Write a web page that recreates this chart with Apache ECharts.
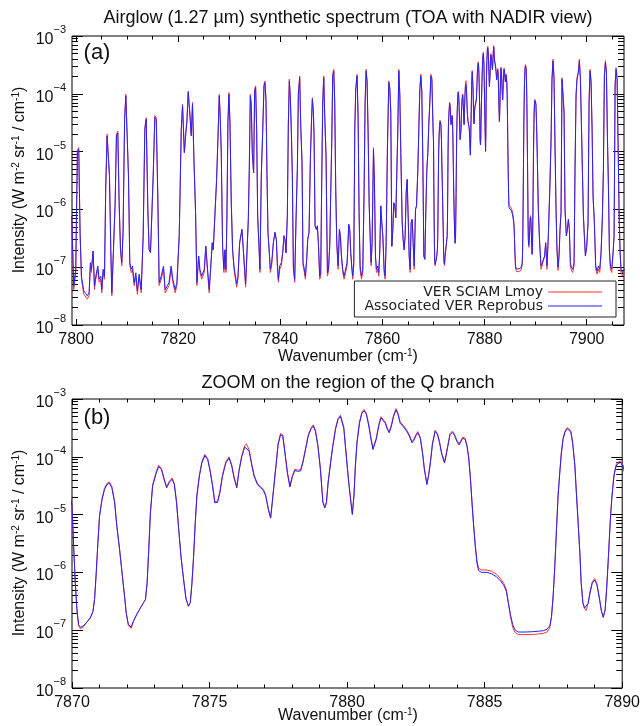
<!DOCTYPE html>
<html>
<head>
<meta charset="utf-8">
<script src="https://cdn.jsdelivr.net/npm/echarts@6/dist/echarts.min.js"></script>
<style>html,body{margin:0;padding:0;background:#fff}#c{width:643px;height:726px}</style>
</head>
<body>
<div id="c"></div>
<script>
// ---- data ----
const wavenumber = [
7799.15,7799.54,7799.93,7800.26,7800.52,7800.78,7801.05,7801.5,7802.2,7802.55,
7802.8,7803.0,7803.33,7803.6,7803.86,7804.25,7804.5,7804.84,7805.03,7805.3,
7805.56,7805.8,7806.07,7806.34,7806.54,7806.8,7807.0,7807.3,7807.65,7807.9,
7808.17,7808.43,7808.7,7808.95,7809.2,7809.5,7809.74,7810.0,7810.26,7810.52,
7810.8,7811.05,7811.37,7811.7,7812.0,7812.35,7812.75,7813.14,7813.46,7813.73,
7814.05,7814.3,7814.57,7815.1,7815.42,7815.7,7816.0,7816.27,7816.67,7817.12,
7817.45,7817.8,7818.2,7818.6,7818.95,7819.4,7819.74,7820.2,7820.6,7820.85,
7821.2,7821.5,7821.7,7821.96,7822.3,7822.55,7822.8,7823.1,7823.4,7823.66,
7824.0,7824.25,7824.6,7825.1,7825.4,7825.75,7826.07,
7826.67,7826.86,7827.25,7827.52,7827.78,7828.04,7828.24,7828.43,7828.69,7828.95,
7829.15,7829.35,7829.54,7829.74,7829.93,7830.13,7830.39,7830.65,7830.92,7831.44,
7831.7,7832.03,7832.29,7832.48,7832.75,7833.2,7833.53,7833.73,7833.92,7834.12,
7834.31,7834.51,7834.77,7834.97,7835.16,7835.36,7835.56,7835.82,7836.01,7836.27,
7836.54,7836.8,7836.99,7837.19,7837.39,7837.58,7837.84,7838.04,7838.3,7838.63,
7838.95,7839.22,7839.41,7839.61,7839.87,7840.2,7840.46,7840.72,7840.92,7841.11,
7841.37,7841.57,7841.76,7841.96,7842.16,7842.35,7842.55,7842.81,7843.07,7843.33,
7843.53,7843.79,7843.99,7844.25,7844.44,7844.71,7844.9,7845.16,7845.36,7845.62,
7845.88,7846.08,7846.27,7846.47,7846.6,7846.8,7847.06,7847.25,7847.45,7847.71,
7847.91,7848.1,7848.3,7848.5,7848.69,7848.95,7849.22,7849.41,7849.67,7849.87,
7850.07,7850.26,7850.46,7850.65,7850.85,7851.05,7851.31,7851.57,7851.76,7851.96,
7852.22,7852.48,7852.75,
7853.07,7853.4,7853.59,7853.79,7853.99,7854.18,7854.38,7854.58,7854.77,7855.03,
7855.23,7855.42,7855.62,7855.88,7856.14,7856.4,7856.6,7856.8,7856.99,7857.19,
7857.39,7857.58,7857.78,7857.97,7858.24,7858.43,7858.63,7858.82,7859.08,7859.28,
7859.48,7859.67,7859.87,7860.07,7860.33,7860.52,7860.72,7860.98,7861.24,7861.44,
7861.63,7861.83,7862.03,7862.22,7862.42,7862.61,7862.81,7863.01,7863.2,7863.4,
7863.59,7863.86,7864.05,7864.25,7864.44,7864.64,7864.84,7865.03,7865.23,7865.42,
7865.62,7865.82,7866.01,7866.21,7866.47,7866.67,7866.93,7867.12,7867.32,7867.52,
7867.71,7867.91,7868.1,7868.3,7868.5,7868.69,7868.89,7869.08,7869.28,7869.48,
7869.67,7869.87,
7870.0,7870.06,7870.12,7870.18,7870.24,7870.31,7870.42,7870.54,7870.66,7870.76,
7870.82,7870.88,7870.94,7871.0,7871.09,7871.18,7871.27,7871.36,7871.45,7871.55,
7871.63,7871.73,7871.82,7871.91,7871.97,7872.05,7872.15,7872.23,7872.36,7872.48,
7872.6,7872.67,7872.73,7872.79,7872.85,7872.93,7873.06,7873.15,7873.25,7873.35,
7873.44,7873.54,7873.64,7873.72,7873.8,7873.88,7873.96,7874.05,7874.14,7874.23,
7874.3,7874.36,7874.42,7874.48,7874.54,7874.63,7874.72,7874.83,7874.93,7875.01,
7875.11,7875.19,7875.29,7875.37,7875.47,7875.59,7875.71,7875.81,7875.89,7875.99,
7876.07,7876.17,7876.28,7876.34,7876.44,7876.53,7876.62,7876.74,7876.86,7876.96,
7877.04,7877.14,7877.22,7877.28,7877.34,7877.42,7877.49,7877.58,7877.66,7877.74,
7877.83,7877.92,7878.01,7878.1,7878.2,7878.31,7878.39,7878.49,7878.59,7878.7,
7878.77,7878.85,7878.94,7879.03,7879.12,7879.19,7879.25,7879.31,7879.4,7879.48,
7879.58,7879.67,7879.76,7879.82,7879.88,7879.97,7880.06,7880.14,7880.19,7880.25,
7880.3,7880.36,7880.45,7880.54,7880.62,7880.7,7880.79,7880.87,7880.94,7881.0,
7881.06,7881.15,7881.23,7881.3,7881.39,7881.46,7881.53,7881.61,7881.69,7881.78,
7881.85,7881.93,7882.05,7882.17,7882.26,7882.36,7882.43,7882.5,7882.57,7882.66,
7882.74,7882.81,7882.9,7882.96,7883.03,7883.1,7883.2,7883.29,7883.36,7883.44,
7883.54,7883.59,7883.66,7883.74,7883.83,7883.9,7883.99,7884.07,7884.14,7884.21,
7884.29,7884.36,7884.42,7884.48,7884.54,7884.6,7884.66,7884.72,7884.78,7884.89,
7885.07,7885.25,7885.43,7885.58,7885.7,7885.79,7885.86,7885.94,7886.02,7886.1,
7886.22,7886.46,7886.71,7886.95,7887.13,7887.27,7887.37,7887.43,7887.49,7887.55,
7887.61,7887.67,7887.73,7887.79,7887.85,7887.92,7888.0,7888.06,7888.13,7888.2,
7888.28,7888.34,7888.4,7888.46,7888.51,7888.57,7888.63,7888.69,7888.76,7888.83,
7888.91,7889.0,7889.08,7889.17,7889.24,7889.31,7889.38,7889.44,7889.5,7889.57,
7889.63,7889.7,7889.77,7889.84,7889.94,
7890.05,7890.18,7890.33,7890.52,7890.78,7891.05,7891.44,7891.76,7891.96,7892.22,
7892.48,7892.75,7893.01,7893.2,7893.4,7893.6,7893.79,7893.99,7894.18,7894.38,
7894.58,7894.77,7894.97,7895.16,7895.36,7895.56,7895.75,7896.01,7896.21,7896.41,
7896.6,7896.8,7896.99,7897.25,7897.52,7897.71,7897.91,7898.1,7898.37,7898.56,
7898.76,7898.95,7899.15,7899.35,7899.54,7899.74,7900.0,7900.26,7900.46,7900.65,
7900.85,7901.05,7901.24,7901.5,7901.76,7902.03,7902.29,7902.55,7902.81,7903.07,
7903.27,7903.46,7903.66,7903.86,7904.05,7904.25,7904.44,7904.64,7904.9,7905.16,
7905.36,7905.56,7905.75,7905.95,7906.14,7906.34,7906.54,7906.73,7907.0,7907.25,
7907.5
];

// Associated VER Reprobus (blue)
const verReprobus = [
7.7e-7,4.7e-8,9.2e-8,1.0e-5,1.09e-5,4.0e-7,7.0e-8,3.9e-8,3.2e-8,3.6e-8,
1.2e-7,9.2e-8,1.9e-7,4.7e-8,7.0e-8,1.05e-7,6.2e-8,7.0e-8,4.1e-8,9.2e-8,
7.0e-8,2.2e-6,1.86e-5,2.0e-5,3.8e-6,2.0e-7,3.6e-8,1.8e-7,1.3e-6,1.86e-5,
2.1e-5,1.3e-6,2.0e-7,1.2e-7,4.0e-7,3.6e-5,9.2e-5,1.86e-5,3.8e-6,1.2e-7,
9.2e-8,1.05e-7,5.4e-8,8.0e-8,3.9e-8,7.6e-8,4.1e-8,3.5e-7,2.4e-5,3.6e-5,
1.0e-6,2.0e-7,1.8e-7,3.8e-6,3.9e-5,3.6e-5,1.7e-6,5.4e-8,7.0e-8,1.05e-7,
4.1e-8,4.1e-8,5.4e-8,1.05e-7,6.2e-8,4.1e-8,5.4e-8,3.5e-7,2.4e-5,6.2e-5,
9.6e-6,2.1e-5,3.2e-5,1.05e-4,4.1e-5,1.86e-5,6.6e-5,6.4e-6,8.8e-7,5.4e-8,
1.56e-7,9.2e-8,7.0e-8,9.2e-8,2.3e-7,9.2e-8,4.1e-8,
2.65e-7,2.0e-7,2.0e-7,3.3e-6,1.63e-5,9.2e-5,3.6e-5,9.6e-6,2.3e-7,9.2e-8,
2.0e-7,9.2e-8,7.7e-7,3.2e-5,9.8e-5,3.2e-5,1.3e-6,2.0e-7,1.05e-7,5.1e-8,
7.0e-8,2.65e-7,2.65e-7,4.5e-7,2.0e-7,5.1e-8,5.4e-8,6.7e-7,4.9e-6,9.2e-5,
6.2e-5,9.6e-6,4.3e-6,1.12e-4,1.28e-4,2.4e-5,7.7e-7,2.3e-7,9.2e-8,3.8e-6,
2.1e-5,1.36e-4,1.56e-4,7.5e-5,3.8e-6,4.0e-7,1.78e-7,9.2e-8,1.2e-7,2.65e-7,
4.0e-7,3.0e-7,1.2e-7,6.2e-8,1.05e-7,1.2e-7,1.78e-7,3.5e-7,3.0e-7,1.78e-7,
7.7e-7,3.0e-5,1.66e-4,8.0e-5,2.1e-5,3.8e-6,1.05e-7,6.2e-8,6.7e-7,4.9e-6,
9.8e-5,1.9e-4,2.8e-5,6.4e-6,1.2e-7,9.2e-8,7.0e-8,1.37e-7,3.0e-7,4.0e-7,
7.3e-6,2.8e-5,8.0e-5,4.7e-5,1.86e-5,5.2e-7,4.5e-7,5.2e-7,2.65e-7,7.0e-8,
8.0e-8,2.9e-6,7.0e-5,1.9e-4,4.1e-5,8.4e-6,8.0e-8,9.2e-8,2.3e-7,1.95e-6,
1.43e-5,2.03e-4,2.48e-4,7.0e-5,2.2e-6,2.65e-7,1.05e-7,4.5e-7,3.5e-7,1.56e-7,
9.2e-8,7.0e-8,6.6e-8,
1.2e-7,5.5e-7,4.5e-7,1.78e-7,1.05e-7,7.0e-8,1.2e-7,2.4e-5,1.19e-4,2.03e-4,
3.6e-5,8.8e-7,1.05e-7,7.0e-8,9.2e-8,1.95e-6,7.0e-5,2.48e-4,1.56e-4,2.1e-5,
1.3e-6,3.5e-7,1.2e-7,2.65e-7,1.09e-5,2.9e-6,1.56e-7,9.2e-8,1.05e-7,8.0e-8,
2.0e-7,1.15e-6,5.9e-7,3.5e-7,9.2e-8,7.0e-8,2.65e-7,1.25e-5,1.56e-4,1.19e-4,
4.7e-5,2.3e-7,4.5e-7,1.3e-6,1.15e-6,7.2e-7,6.7e-7,2.4e-5,2.48e-4,9.2e-5,
9.6e-6,5.9e-7,3.0e-7,2.0e-7,3.5e-7,1.95e-6,3.3e-6,7.7e-7,1.56e-7,9.2e-8,
5.9e-7,6.7e-7,2.65e-7,1.05e-7,1.0e-6,1.15e-6,4.9e-6,2.4e-5,1.19e-4,2.03e-4,
1.05e-4,6.4e-6,1.56e-7,1.37e-7,1.0e-6,4.9e-6,9.6e-6,3.0e-5,7.0e-5,2.03e-4,
1.78e-4,3.2e-5,
1.4e-5,2.8e-6,6.5e-7,2.25e-7,1.25e-7,1.12e-7,1.2e-7,1.38e-7,1.62e-7,2.1e-7,
3.4e-7,9.7e-7,3.2e-6,9.3e-6,1.8e-5,2.7e-5,3.3e-5,3.5e-5,2.9e-5,1.6e-5,
6.3e-6,2.5e-6,9.7e-7,3.9e-7,2.0e-7,1.25e-7,1.13e-7,1.42e-7,1.9e-7,2.4e-7,
3.0e-7,3.4e-7,6.5e-7,2.5e-6,1.05e-5,3.1e-5,5.2e-5,6.8e-5,6.0e-5,4.0e-5,
2.9e-5,3.6e-5,4.1e-5,3.3e-5,1.6e-5,5.5e-6,1.9e-6,8.0e-7,3.6e-7,2.6e-7,
3.0e-7,6.5e-7,1.9e-6,7.2e-6,2.1e-5,4.6e-5,7.8e-5,1.05e-4,9.0e-5,6.0e-5,
3.1e-5,1.6e-5,1.63e-5,2.3e-5,4.6e-5,7.8e-5,9.5e-5,6.8e-5,4.3e-5,2.9e-5,
5.6e-5,1.0e-4,1.48e-4,1.6e-4,1.25e-4,7.3e-5,4.6e-5,3.3e-5,2.9e-5,2.6e-5,
2.1e-5,1.2e-5,8.7e-6,1.6e-5,3.1e-5,7.3e-5,1.6e-4,2.4e-4,2.3e-4,1.16e-4,
5.2e-5,3.0e-5,4.5e-5,5.8e-5,5.6e-5,5.7e-5,7.8e-5,1.33e-4,2.3e-4,3.1e-4,
3.4e-4,2.75e-4,1.5e-4,6.0e-5,1.6e-5,1.3e-5,1.6e-5,3.5e-5,7.8e-5,1.5e-4,
3.0e-4,4.4e-4,5.0e-4,4.7e-4,3.1e-4,1.02e-4,3.5e-5,1.6e-5,1.0e-5,2.1e-5,
6.8e-5,1.74e-4,3.8e-4,5.7e-4,6.3e-4,5.4e-4,3.4e-4,2.0e-4,1.33e-4,1.25e-4,
2.0e-4,3.4e-4,4.7e-4,4.8e-4,3.8e-4,3.0e-4,2.6e-4,3.4e-4,5.0e-4,6.5e-4,
5.4e-4,3.8e-4,3.3e-4,2.75e-4,2.3e-4,1.74e-4,1.93e-4,2.3e-4,2.6e-4,2.1e-4,
1.16e-4,6.0e-5,3.3e-5,4.6e-5,8.0e-5,1.6e-4,2.75e-4,2.4e-4,1.74e-4,1.1e-4,
7.8e-5,1.0e-4,1.5e-4,2.4e-4,2.65e-4,2.35e-4,1.85e-4,1.6e-4,1.85e-4,2.1e-4,
2.0e-4,1.5e-4,9.5e-5,4.3e-5,1.6e-5,6.3e-6,2.8e-6,1.45e-6,1.07e-6,1.0e-6,
1.0e-6,9.5e-7,8.4e-7,7.1e-7,5.9e-7,4.7e-7,3.0e-7,1.85e-7,1.25e-7,1.02e-7,
9.3e-8,9.3e-8,9.4e-8,9.6e-8,9.8e-8,1.04e-7,1.2e-7,1.72e-7,3.9e-7,1.27e-6,
5.5e-6,2.1e-5,5.2e-5,1.16e-4,2.0e-4,2.65e-4,3.05e-4,3.2e-4,2.7e-4,1.7e-4,
6.8e-5,2.1e-5,7.0e-6,2.2e-6,6.5e-7,3.0e-7,2.4e-7,2.25e-7,2.9e-7,4.4e-7,
6.5e-7,7.4e-7,6.1e-7,3.6e-7,2.2e-7,1.7e-7,2.25e-7,5.8e-7,1.9e-6,8.2e-6,
2.1e-5,4.6e-5,6.8e-5,7.6e-5,8.0e-5,
6.5e-5,2.8e-5,7.3e-6,1.0e-6,2.65e-7,1.05e-7,1.0e-7,1.56e-7,2.65e-7,1.05e-7,
3.5e-7,1.95e-6,1.43e-5,1.78e-4,3.7e-4,1.78e-4,1.25e-5,1.0e-6,2.0e-7,1.0e-7,
1.56e-7,4.5e-7,8.8e-7,1.78e-4,1.9e-4,4.7e-5,1.0e-6,3.5e-7,4.5e-7,6.7e-7,
4.5e-7,1.2e-7,1.0e-7,9.2e-8,1.2e-7,4.9e-6,9.2e-5,1.78e-4,2.32e-4,3.7e-4,
1.78e-4,3.2e-5,4.9e-6,7.7e-7,3.5e-7,1.56e-7,2.3e-7,5.9e-7,7.0e-5,2.48e-4,
1.56e-4,2.4e-5,1.7e-6,5.9e-7,1.05e-7,8.6e-8,1.05e-7,9.2e-8,1.78e-7,7.7e-7,
4.9e-6,2.03e-4,3.5e-4,2.32e-4,1.86e-5,2.5e-6,2.0e-7,1.05e-7,9.2e-8,1.78e-7,
3.5e-7,1.36e-4,2.65e-4,1.78e-4,1.43e-5,8.8e-7,1.78e-7,9.2e-8,8.0e-8,9.2e-8,
9.0e-8
];

// VER SCIAM Lmoy (red)
const verSciam = [
7.7e-7,4.1e-8,8.1e-8,1.07e-5,1.17e-5,4.0e-7,6.2e-8,3.4e-8,2.8e-8,3.2e-8,
1.06e-7,8.1e-8,1.9e-7,4.1e-8,6.2e-8,9.2e-8,5.5e-8,6.2e-8,3.6e-8,8.1e-8,
6.2e-8,2.2e-6,2.0e-5,2.14e-5,3.8e-6,2.0e-7,3.2e-8,1.8e-7,1.3e-6,2.0e-5,
2.25e-5,1.3e-6,2.0e-7,1.06e-7,4.0e-7,3.85e-5,9.8e-5,2.0e-5,3.8e-6,1.06e-7,
8.1e-8,9.2e-8,4.8e-8,7.0e-8,3.4e-8,6.7e-8,3.6e-8,3.5e-7,2.57e-5,3.85e-5,
1.0e-6,2.0e-7,1.8e-7,3.8e-6,4.2e-5,3.85e-5,1.7e-6,4.8e-8,6.2e-8,9.2e-8,
3.6e-8,3.6e-8,4.8e-8,9.2e-8,5.5e-8,3.6e-8,4.8e-8,3.5e-7,2.57e-5,6.6e-5,
9.6e-6,2.25e-5,3.4e-5,1.12e-4,4.4e-5,2.0e-5,7.1e-5,6.4e-6,8.8e-7,4.8e-8,
1.56e-7,8.1e-8,6.2e-8,8.1e-8,2.3e-7,8.1e-8,3.6e-8,
2.65e-7,2.0e-7,2.0e-7,3.3e-6,1.74e-5,9.8e-5,3.85e-5,9.6e-6,2.3e-7,8.1e-8,
2.0e-7,8.1e-8,7.7e-7,3.4e-5,1.05e-4,3.4e-5,1.3e-6,2.0e-7,9.2e-8,4.5e-8,
6.2e-8,2.65e-7,2.65e-7,4.5e-7,2.0e-7,4.5e-8,4.8e-8,6.7e-7,4.9e-6,9.8e-5,
6.6e-5,9.6e-6,4.3e-6,1.2e-4,1.37e-4,2.57e-5,7.7e-7,2.3e-7,8.1e-8,3.8e-6,
2.25e-5,1.46e-4,1.67e-4,8.0e-5,3.8e-6,4.0e-7,1.78e-7,8.1e-8,1.06e-7,2.65e-7,
4.0e-7,3.0e-7,1.06e-7,5.5e-8,9.2e-8,1.06e-7,1.78e-7,3.5e-7,3.0e-7,1.78e-7,
7.7e-7,3.2e-5,1.78e-4,8.6e-5,2.25e-5,3.8e-6,9.2e-8,5.5e-8,6.7e-7,4.9e-6,
1.05e-4,2.03e-4,3.0e-5,6.4e-6,1.06e-7,8.1e-8,6.2e-8,1.37e-7,3.0e-7,4.0e-7,
7.3e-6,3.0e-5,8.6e-5,5.0e-5,2.0e-5,5.2e-7,4.5e-7,5.2e-7,2.65e-7,6.2e-8,
7.0e-8,2.9e-6,7.5e-5,2.03e-4,4.4e-5,8.4e-6,7.0e-8,8.1e-8,2.3e-7,1.95e-6,
1.53e-5,2.17e-4,2.65e-4,7.5e-5,2.2e-6,2.65e-7,9.2e-8,4.5e-7,3.5e-7,1.56e-7,
8.1e-8,6.2e-8,5.8e-8,
1.06e-7,5.5e-7,4.5e-7,1.78e-7,9.2e-8,6.2e-8,1.06e-7,2.57e-5,1.27e-4,2.17e-4,
3.85e-5,8.8e-7,9.2e-8,6.2e-8,8.1e-8,1.95e-6,7.5e-5,2.65e-4,1.67e-4,2.25e-5,
1.3e-6,3.5e-7,1.06e-7,2.65e-7,1.17e-5,2.9e-6,1.56e-7,8.1e-8,9.2e-8,7.0e-8,
2.0e-7,1.15e-6,5.9e-7,3.5e-7,8.1e-8,6.2e-8,2.65e-7,1.34e-5,1.67e-4,1.27e-4,
5.0e-5,2.3e-7,4.5e-7,1.3e-6,1.15e-6,7.2e-7,6.7e-7,2.57e-5,2.65e-4,9.8e-5,
9.6e-6,5.9e-7,3.0e-7,2.0e-7,3.5e-7,1.95e-6,3.3e-6,7.7e-7,1.56e-7,8.1e-8,
5.9e-7,6.7e-7,2.65e-7,9.2e-8,1.0e-6,1.15e-6,4.9e-6,2.57e-5,1.27e-4,2.17e-4,
1.12e-4,6.4e-6,1.56e-7,1.37e-7,1.0e-6,4.9e-6,9.6e-6,3.2e-5,7.5e-5,2.17e-4,
1.9e-4,3.4e-5,
1.47e-5,2.8e-6,6.5e-7,2.25e-7,1.19e-7,1.06e-7,1.14e-7,1.38e-7,1.62e-7,2.1e-7,
3.4e-7,9.7e-7,3.2e-6,9.3e-6,1.89e-5,2.84e-5,3.47e-5,3.68e-5,3.05e-5,1.68e-5,
6.3e-6,2.5e-6,9.7e-7,3.9e-7,2.0e-7,1.19e-7,1.07e-7,1.42e-7,1.9e-7,2.4e-7,
3.0e-7,3.4e-7,6.5e-7,2.5e-6,1.1e-5,3.26e-5,5.46e-5,7.14e-5,6.3e-5,4.2e-5,
3.05e-5,3.78e-5,4.3e-5,3.47e-5,1.68e-5,5.5e-6,1.9e-6,8.0e-7,3.6e-7,2.6e-7,
3.0e-7,6.5e-7,1.9e-6,7.2e-6,2.2e-5,4.83e-5,8.2e-5,1.1e-4,9.45e-5,6.3e-5,
3.26e-5,1.68e-5,1.71e-5,2.42e-5,4.83e-5,8.2e-5,1.0e-4,7.14e-5,4.52e-5,3.05e-5,
5.88e-5,1.05e-4,1.55e-4,1.68e-4,1.31e-4,7.67e-5,4.83e-5,3.47e-5,3.05e-5,2.73e-5,
2.2e-5,1.26e-5,8.7e-6,1.68e-5,3.26e-5,7.67e-5,1.68e-4,2.52e-4,2.42e-4,1.22e-4,
5.46e-5,3.15e-5,4.73e-5,6.1e-5,5.88e-5,6.0e-5,8.2e-5,1.4e-4,2.42e-4,3.26e-4,
3.57e-4,2.89e-4,1.58e-4,6.3e-5,1.68e-5,1.37e-5,1.68e-5,3.68e-5,8.2e-5,1.58e-4,
3.15e-4,4.62e-4,5.25e-4,4.94e-4,3.26e-4,1.07e-4,3.68e-5,1.68e-5,1.05e-5,2.2e-5,
7.14e-5,1.83e-4,4.0e-4,6.0e-4,6.6e-4,5.67e-4,3.57e-4,2.1e-4,1.4e-4,1.31e-4,
2.1e-4,3.57e-4,4.94e-4,5.04e-4,4.0e-4,3.15e-4,2.73e-4,3.57e-4,5.25e-4,6.8e-4,
5.67e-4,4.0e-4,3.47e-4,2.89e-4,2.42e-4,1.83e-4,2.03e-4,2.42e-4,2.73e-4,2.2e-4,
1.22e-4,6.3e-5,3.47e-5,4.83e-5,8.4e-5,1.68e-4,2.89e-4,2.52e-4,1.83e-4,1.16e-4,
8.2e-5,1.05e-4,1.58e-4,2.52e-4,2.78e-4,2.47e-4,1.94e-4,1.68e-4,1.94e-4,2.2e-4,
2.1e-4,1.58e-4,1.0e-4,4.5e-5,1.68e-5,6.6e-6,3.0e-6,1.58e-6,1.18e-6,1.1e-6,
1.1e-6,1.05e-6,9.3e-7,7.8e-7,6.4e-7,5.0e-7,3.0e-7,1.7e-7,1.12e-7,9.2e-8,
8.4e-8,8.4e-8,8.4e-8,8.6e-8,8.8e-8,9.3e-8,1.1e-7,1.72e-7,3.9e-7,1.27e-6,
5.5e-6,2.2e-5,5.46e-5,1.22e-4,2.1e-4,2.78e-4,3.2e-4,3.36e-4,2.84e-4,1.79e-4,
7.14e-5,2.2e-5,7.0e-6,2.2e-6,6.5e-7,3.0e-7,2.4e-7,2.2e-7,2.9e-7,4.6e-7,
6.8e-7,7.8e-7,6.4e-7,3.6e-7,2.2e-7,1.65e-7,2.25e-7,5.8e-7,1.9e-6,8.6e-6,
2.2e-5,4.83e-5,7.14e-5,8.0e-5,8.4e-5,
6.95e-5,3.0e-5,7.3e-6,1.0e-6,2.65e-7,9.2e-8,8.8e-8,1.56e-7,2.65e-7,9.2e-8,
3.5e-7,1.95e-6,1.53e-5,1.9e-4,3.96e-4,1.9e-4,1.34e-5,1.0e-6,2.0e-7,8.8e-8,
1.56e-7,4.5e-7,8.8e-7,1.9e-4,2.03e-4,5.0e-5,1.0e-6,3.5e-7,4.5e-7,6.7e-7,
4.5e-7,1.06e-7,8.8e-8,8.1e-8,1.06e-7,4.9e-6,9.8e-5,1.9e-4,2.48e-4,3.96e-4,
1.9e-4,3.4e-5,4.9e-6,7.7e-7,3.5e-7,1.56e-7,2.3e-7,5.9e-7,7.5e-5,2.65e-4,
1.67e-4,2.57e-5,1.7e-6,5.9e-7,9.2e-8,7.6e-8,9.2e-8,8.1e-8,1.78e-7,7.7e-7,
4.9e-6,2.17e-4,3.75e-4,2.48e-4,2.0e-5,2.5e-6,2.0e-7,9.2e-8,8.1e-8,1.78e-7,
3.5e-7,1.46e-4,2.84e-4,1.9e-4,1.53e-5,8.8e-7,1.78e-7,8.1e-8,7.0e-8,8.1e-8,
7.9e-8
];

const seriesNames = ['VER SCIAM Lmoy', 'Associated VER Reprobus'];
const panelTitles = ['Airglow (1.27 µm) synthetic spectrum (TOA with NADIR view)', 'ZOOM on the region of the Q branch'];
const panelLetters = ['(a)', '(b)'];
const xRangeA = [7799.2, 7907.3];
const xRangeB = [7870, 7890];
const xMajorA = [7800, 7820, 7840, 7860, 7880, 7900];
const xMinorA = [7805, 7810, 7815, 7825, 7830, 7835, 7845, 7850, 7855, 7865, 7870, 7875, 7885, 7890, 7895, 7905];
const xMajorB = [7870, 7875, 7880, 7885, 7890];
const xMinorB = [7871, 7872, 7873, 7874, 7876, 7877, 7878, 7879, 7881, 7882, 7883, 7884, 7886, 7887, 7888, 7889];
const yDecades = [-8, -7, -6, -5, -4, -3];

// ---- chart ----
const FONT = 'Liberation Sans, Arial, Helvetica, sans-serif';
const RED = '#ff3434', BLUE = '#2323ff';
const grids = [
  { left: 72, top: 36, width: 552, height: 289 },
  { left: 72, top: 399, width: 552, height: 289 }
];
const yMinorExp = [];
yDecades.slice(0, -1).forEach(e => { for (let k = 2; k <= 9; k++) yMinorExp.push(e + Math.log10(k)); });

function xAxesFor(gi, range, majors, minors) {
  const base = { gridIndex: gi, type: 'value', min: range[0], max: range[1], axisLine: { show: false }, splitLine: { show: false } };
  return [
    Object.assign({}, base, { position: 'bottom',
      axisTick: { inside: true, length: 6, customValues: majors, lineStyle: { color: '#000' } },
      axisLabel: { customValues: majors, margin: 7, fontSize: 16, color: '#111', fontFamily: FONT, formatter: v => String(v) } }),
    Object.assign({}, base, { position: 'bottom',
      axisTick: { inside: true, length: 3.5, customValues: minors, lineStyle: { color: '#000' } }, axisLabel: { show: false } }),
    Object.assign({}, base, { position: 'top',
      axisTick: { inside: true, length: 6, customValues: majors, lineStyle: { color: '#000' } }, axisLabel: { show: false } }),
    Object.assign({}, base, { position: 'top',
      axisTick: { inside: true, length: 3.5, customValues: minors, lineStyle: { color: '#000' } }, axisLabel: { show: false } })
  ];
}
function yAxesFor(gi) {
  const logBase = { gridIndex: gi, type: 'log', logBase: 10, min: 1e-8, max: 1e-3, axisLine: { show: false }, splitLine: { show: false } };
  const linBase = { gridIndex: gi, type: 'value', min: -8, max: -3, axisLine: { show: false }, splitLine: { show: false }, axisLabel: { show: false } };
  return [
    Object.assign({}, logBase, { position: 'left',
      axisTick: { inside: true, length: 11, lineStyle: { color: '#000' } },
      axisLabel: { margin: 6, color: '#111', fontFamily: FONT,
        formatter: v => '{b|10}{s|\u2212' + (-Math.round(Math.log10(v))) + '}',
        rich: { b: { fontSize: 16, fontFamily: FONT, color: '#111', padding: [7, 0, 0, 0], verticalAlign: 'bottom' },
                s: { fontSize: 11, fontFamily: FONT, color: '#111', verticalAlign: 'top' } } } }),
    Object.assign({}, linBase, { position: 'left',
      axisTick: { inside: true, length: 6, customValues: yMinorExp, lineStyle: { color: '#000' } } }),
    Object.assign({}, logBase, { position: 'right',
      axisTick: { inside: true, length: 11, lineStyle: { color: '#000' } }, axisLabel: { show: false } }),
    Object.assign({}, linBase, { position: 'right',
      axisTick: { inside: true, length: 6, customValues: yMinorExp, lineStyle: { color: '#000' } } })
  ];
}

const redData = wavenumber.map((x, i) => [x, verSciam[i]]);
const blueData = wavenumber.map((x, i) => [x, verReprobus[i]]);

function lineSeries(name, data, color, xi, yi) {
  return { type: 'line', name, data, xAxisIndex: xi, yAxisIndex: yi, symbol: 'none', showSymbol: false,
    lineStyle: { color, width: 1 }, itemStyle: { color }, color, clip: true, animation: false, silent: true };
}

const supRich = { n: { fontSize: 16, fontFamily: FONT, fill: '#111' }, s: { fontSize: 10, fontFamily: FONT, fill: '#111', padding: [0, 0, 8, 0] } };
function txt(x, y, text, size, extra) {
  return Object.assign({ type: 'text', x, y, style: { text, fontSize: size, fontFamily: FONT, fill: '#111', align: 'center', verticalAlign: 'middle' } }, extra || {});
}

const option = {
  animation: false,
  backgroundColor: '#fff',
  grid: grids.map(g => Object.assign({ show: true, borderColor: '#000', borderWidth: 1, backgroundColor: 'transparent' }, g)),
  xAxis: [].concat(xAxesFor(0, xRangeA, xMajorA, xMinorA), xAxesFor(1, xRangeB, xMajorB, xMinorB)),
  yAxis: [].concat(yAxesFor(0), yAxesFor(1)),
  legend: {
    orient: 'vertical', align: 'right', right: 27, top: 281,
    icon: 'rect', itemWidth: 54, itemHeight: 1.2, itemGap: 0,
    padding: [4, 14, 4, 10],
    borderColor: '#222', borderWidth: 1, backgroundColor: '#fff',
    selectedMode: false,
    textStyle: { fontFamily: 'DejaVu Sans', fontSize: 14, color: '#222', lineHeight: 12, height: 12 },
    data: seriesNames
  },
  series: [
    lineSeries(seriesNames[0], redData, RED, 0, 0),
    lineSeries(seriesNames[1], blueData, BLUE, 0, 0),
    lineSeries(seriesNames[0], redData, RED, 4, 4),
    lineSeries(seriesNames[1], blueData, BLUE, 4, 4)
  ],
  graphic: [
    txt(348, 18, panelTitles[0], 18),
    txt(348, 383, panelTitles[1], 18),
    txt(97, 53, panelLetters[0], 22),
    txt(97, 418, panelLetters[1], 22),
    { type: 'text', x: 20, y: 180, rotation: Math.PI / 2,
      style: { text: '{n|Intensity (W m}{s|-2}{n| sr}{s|-1}{n| / cm}{s|-1}{n|)}', rich: supRich, align: 'center', verticalAlign: 'middle', fill: '#111' } },
    { type: 'text', x: 20, y: 543, rotation: Math.PI / 2,
      style: { text: '{n|Intensity (W m}{s|-2}{n| sr}{s|-1}{n| / cm}{s|-1}{n|)}', rich: supRich, align: 'center', verticalAlign: 'middle', fill: '#111' } },
    { type: 'text', x: 348, y: 357,
      style: { text: '{n|Wavenumber (cm}{s|-1}{n|)}', rich: supRich, align: 'center', verticalAlign: 'middle', fill: '#111' } },
    { type: 'text', x: 348, y: 716,
      style: { text: '{n|Wavenumber (cm}{s|-1}{n|)}', rich: supRich, align: 'center', verticalAlign: 'middle', fill: '#111' } }
  ]
};

const chart = echarts.init(document.getElementById('c'), null, { renderer: 'canvas' });
chart.setOption(option);
</script>
</body>
</html>
